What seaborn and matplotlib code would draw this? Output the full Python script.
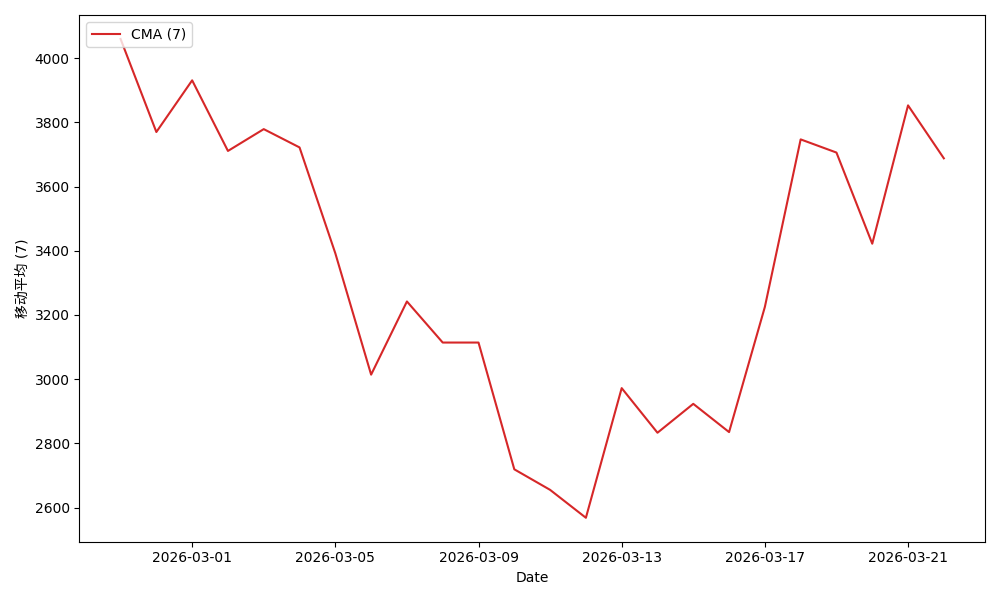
import pandas as pd
import matplotlib.pyplot as plt
import seaborn as sns

plt.rcParams["font.family"] = ["DejaVu Sans", "Noto Sans CJK SC"]

# daily dates and 7-day moving average values
dates = pd.date_range("2026-02-27", "2026-03-22", freq="D")
cma_values = [
    4060, 3770, 3931, 3711, 3779, 3722, 3392, 3014,
    3242, 3114, 3114, 2719, 2655, 2568, 2972, 2833,
    2923, 2835, 3225, 3747, 3706, 3422, 3853, 3688,
]
series_label = "CMA (7)"
y_label = "移动平均 (7)"

df = pd.DataFrame({"Date": dates, "value": cma_values})

fig, ax = plt.subplots(figsize=(10, 6))
sns.lineplot(data=df, x="Date", y="value", color="#d62728", label=series_label, ax=ax)

ax.set_xlabel("Date")
ax.set_ylabel(y_label)
ax.legend(loc="upper left")

plt.tight_layout()
plt.savefig("out.png", dpi=100)
plt.close()
